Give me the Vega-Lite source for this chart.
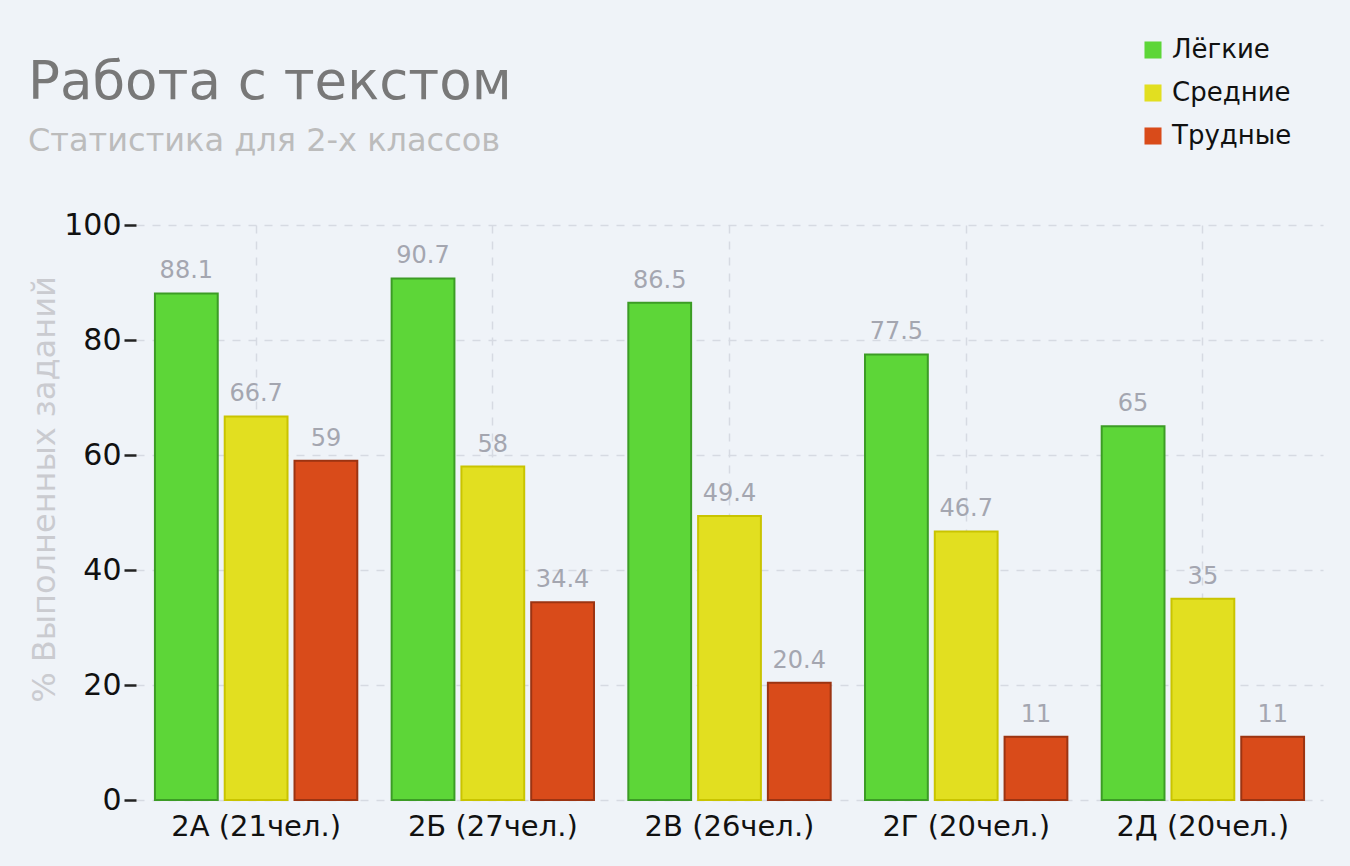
{
  "$schema": "https://vega.github.io/schema/vega-lite/v6.json",
  "autosize": {"type": "none"},
  "width": 1187,
  "height": 575,
  "padding": {"left": 136, "top": 225, "right": 27, "bottom": 66},
  "background": "#eff3f8",
  "title": {
    "text": "Работа с текстом",
    "subtitle": "Статистика для 2-х классов",
    "anchor": "start",
    "frame": "group",
    "dx": -108,
    "offset": -120,
    "font": "DejaVu Sans",
    "fontSize": 53,
    "fontWeight": "normal",
    "color": "#787878",
    "subtitleFont": "DejaVu Sans",
    "subtitleFontSize": 32,
    "subtitleColor": "#bcbcbc",
    "subtitlePadding": 16
  },
  "data": {
    "values": [
      {"cls": "2А (21чел.)", "level": "Лёгкие", "v": 88.1},
      {"cls": "2А (21чел.)", "level": "Средние", "v": 66.7},
      {"cls": "2А (21чел.)", "level": "Трудные", "v": 59},
      {"cls": "2Б (27чел.)", "level": "Лёгкие", "v": 90.7},
      {"cls": "2Б (27чел.)", "level": "Средние", "v": 58},
      {"cls": "2Б (27чел.)", "level": "Трудные", "v": 34.4},
      {"cls": "2В (26чел.)", "level": "Лёгкие", "v": 86.5},
      {"cls": "2В (26чел.)", "level": "Средние", "v": 49.4},
      {"cls": "2В (26чел.)", "level": "Трудные", "v": 20.4},
      {"cls": "2Г (20чел.)", "level": "Лёгкие", "v": 77.5},
      {"cls": "2Г (20чел.)", "level": "Средние", "v": 46.7},
      {"cls": "2Г (20чел.)", "level": "Трудные", "v": 11},
      {"cls": "2Д (20чел.)", "level": "Лёгкие", "v": 65},
      {"cls": "2Д (20чел.)", "level": "Средние", "v": 35},
      {"cls": "2Д (20чел.)", "level": "Трудные", "v": 11}
    ]
  },
  "encoding": {
    "x": {
      "field": "cls",
      "type": "nominal",
      "sort": null,
      "scale": {"paddingInner": 0.145, "paddingOuter": 0.08},
      "axis": {
        "title": null,
        "labelAngle": 0,
        "labelFont": "DejaVu Sans",
        "labelFontSize": 29,
        "labelColor": "#111111",
        "labelPadding": 12,
        "ticks": false,
        "domain": false,
        "grid": true,
        "gridColor": "#d6dae2",
        "gridDash": [8, 8],
        "gridWidth": 1.5
      }
    },
    "xOffset": {
      "field": "level",
      "type": "nominal",
      "sort": ["Лёгкие", "Средние", "Трудные"],
      "scale": {"paddingInner": 0.1, "paddingOuter": 0}
    },
    "y": {
      "field": "v",
      "type": "quantitative",
      "scale": {"domain": [0, 100], "nice": false},
      "axis": {
        "values": [0, 20, 40, 60, 80, 100],
        "title": "% Выполненных заданий",
        "titleFont": "DejaVu Sans",
        "titleFontSize": 32,
        "titleFontWeight": "normal",
        "titleColor": "#cacbd0",
        "titlePadding": 2,
        "titleY": 264,
        "labelFont": "DejaVu Sans",
        "labelFontSize": 30,
        "labelColor": "#111111",
        "labelPadding": 3,
        "tickSize": 12,
        "tickColor": "#222222",
        "tickWidth": 2.5,
        "domain": false,
        "grid": true,
        "gridColor": "#d6dae2",
        "gridDash": [8, 8],
        "gridWidth": 1.5
      }
    }
  },
  "layer": [
    {
      "mark": {"type": "bar", "strokeWidth": 2},
      "encoding": {
        "color": {
          "field": "level",
          "type": "nominal",
          "scale": {
            "domain": ["Лёгкие", "Средние", "Трудные"],
            "range": ["#5dd638", "#e2df20", "#d94b1a"]
          },
          "legend": {
            "title": null,
            "orient": "none",
            "legendX": 1004,
            "legendY": -188,
            "symbolType": "square",
            "symbolSize": 290,
            "symbolStrokeWidth": 0,
            "labelFont": "DejaVu Sans",
            "labelFontSize": 26,
            "labelColor": "#111111",
            "rowPadding": 17,
            "labelOffset": 6
          }
        },
        "stroke": {
          "field": "level",
          "type": "nominal",
          "scale": {
            "domain": ["Лёгкие", "Средние", "Трудные"],
            "range": ["#3c9c25", "#c9c400", "#9c3412"]
          },
          "legend": null
        }
      }
    },
    {
      "mark": {
        "type": "text",
        "baseline": "bottom",
        "dy": -10,
        "font": "DejaVu Sans",
        "fontSize": 24,
        "color": "#a4a6b0"
      },
      "encoding": {
        "text": {"field": "v", "type": "quantitative"}
      }
    }
  ],
  "config": {"view": {"stroke": null}}
}
